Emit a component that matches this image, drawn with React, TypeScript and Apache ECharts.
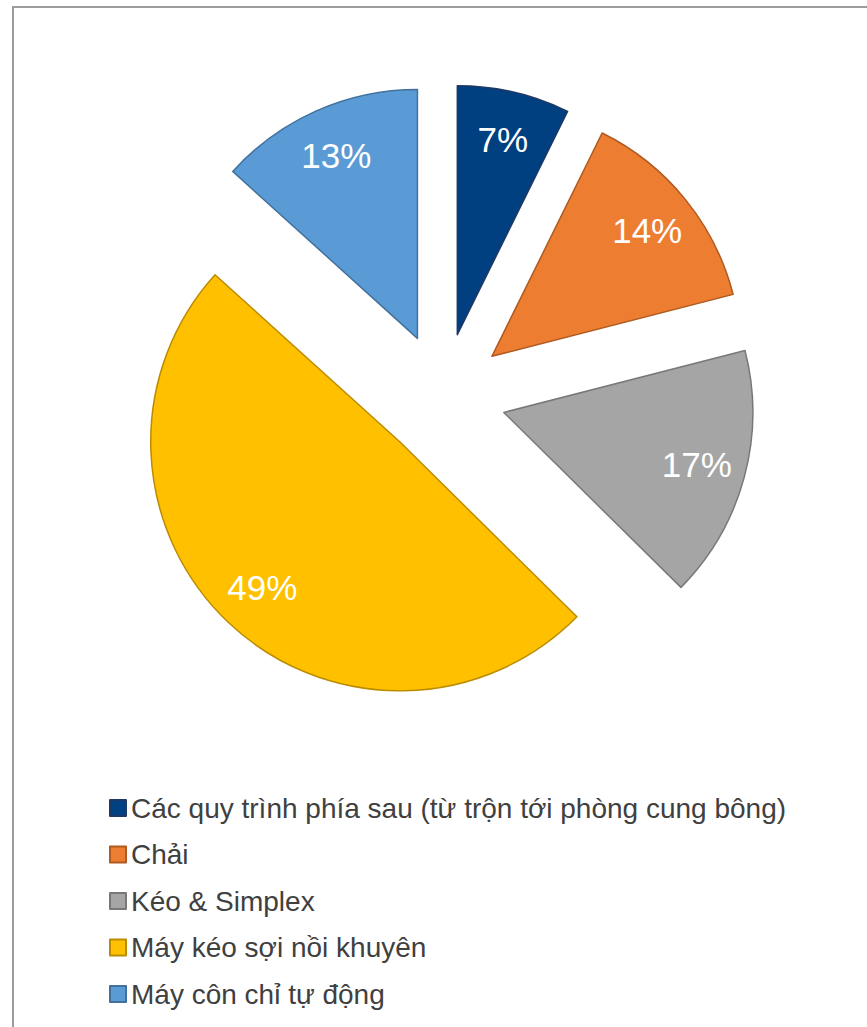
import React, { useEffect, useRef } from "react";
import * as echarts from "echarts";

const categories = [
  "Các quy trình phía sau (từ trộn tới phòng cung bông)",
  "Chải",
  "Kéo & Simplex",
  "Máy kéo sợi nồi khuyên",
  "Máy côn chỉ tự động",
];
const values = [7.3, 13.7, 16.4, 49.3, 13.3];
// percentage labels as printed on the slices
const labelTexts = ["7%", "14%", "17%", "49%", "13%"];
const colors = ["#003F80", "#ED7D31", "#A5A5A5", "#FFC000", "#5B9BD5"];
const borderColors = ["#1F3864", "#AE5A21", "#787878", "#BC8C00", "#41719C"];

export default function App() {
  const ref = useRef<HTMLDivElement>(null);
  useEffect(() => {
    document.body.style.margin = "0";
    const chart = echarts.init(ref.current!, undefined, { renderer: "svg" });
    const font = "'Liberation Sans', Arial, sans-serif";
    const center = [443, 396];
    const offset = 63;
    const mainData = categories.map((name, i) => {
      const st = { color: colors[i], borderColor: borderColors[i], borderWidth: 1.5 };
      return { name, value: values[i], selected: true, itemStyle: st, select: { itemStyle: st } };
    });
    const labelData = categories.map((name, i) => ({
      name,
      value: values[i],
      selected: true,
      itemStyle: { color: "rgba(0,0,0,0)", borderWidth: 0 },
      select: { itemStyle: { color: "rgba(0,0,0,0)", borderWidth: 0 } },
    }));
    chart.setOption({
      animation: false,
      graphic: [
        {
          type: "rect",
          shape: { x: 13, y: 7, width: 1000, height: 1200 },
          style: { fill: "none", stroke: "#9c9c9c", lineWidth: 2 },
          silent: true,
        },
      ],
      legend: {
        orient: "vertical",
        left: 104,
        top: 789,
        itemWidth: 16,
        itemHeight: 16,
        itemGap: 18.5,
        icon: "rect",
        selectedMode: false,
        data: categories,
        textStyle: { fontFamily: font, fontSize: 28, color: "#404040", lineHeight: 28 },
      },
      series: [
        {
          type: "pie",
          center,
          radius: [0, 249],
          startAngle: 90,
          clockwise: true,
          selectedMode: "multiple",
          selectedOffset: offset,
          label: { show: false },
          labelLine: { show: false },
          emphasis: { disabled: true },
          data: mainData,
        },
        {
          type: "pie",
          center,
          radius: [145, 249],
          startAngle: 90,
          clockwise: true,
          selectedMode: "multiple",
          selectedOffset: offset,
          silent: true,
          emphasis: { disabled: true },
          label: {
            show: true,
            position: "inside",
            formatter: (p: any) => labelTexts[p.dataIndex],
            color: "#ffffff",
            fontFamily: font,
            fontSize: 35,
          },
          select: {
            label: { color: "#ffffff" },
          },
          labelLine: { show: false },
          data: labelData,
        },
      ],
    });
    return () => chart.dispose();
  }, []);
  return <div ref={ref} style={{ width: 867, height: 1027 }} />;
}
